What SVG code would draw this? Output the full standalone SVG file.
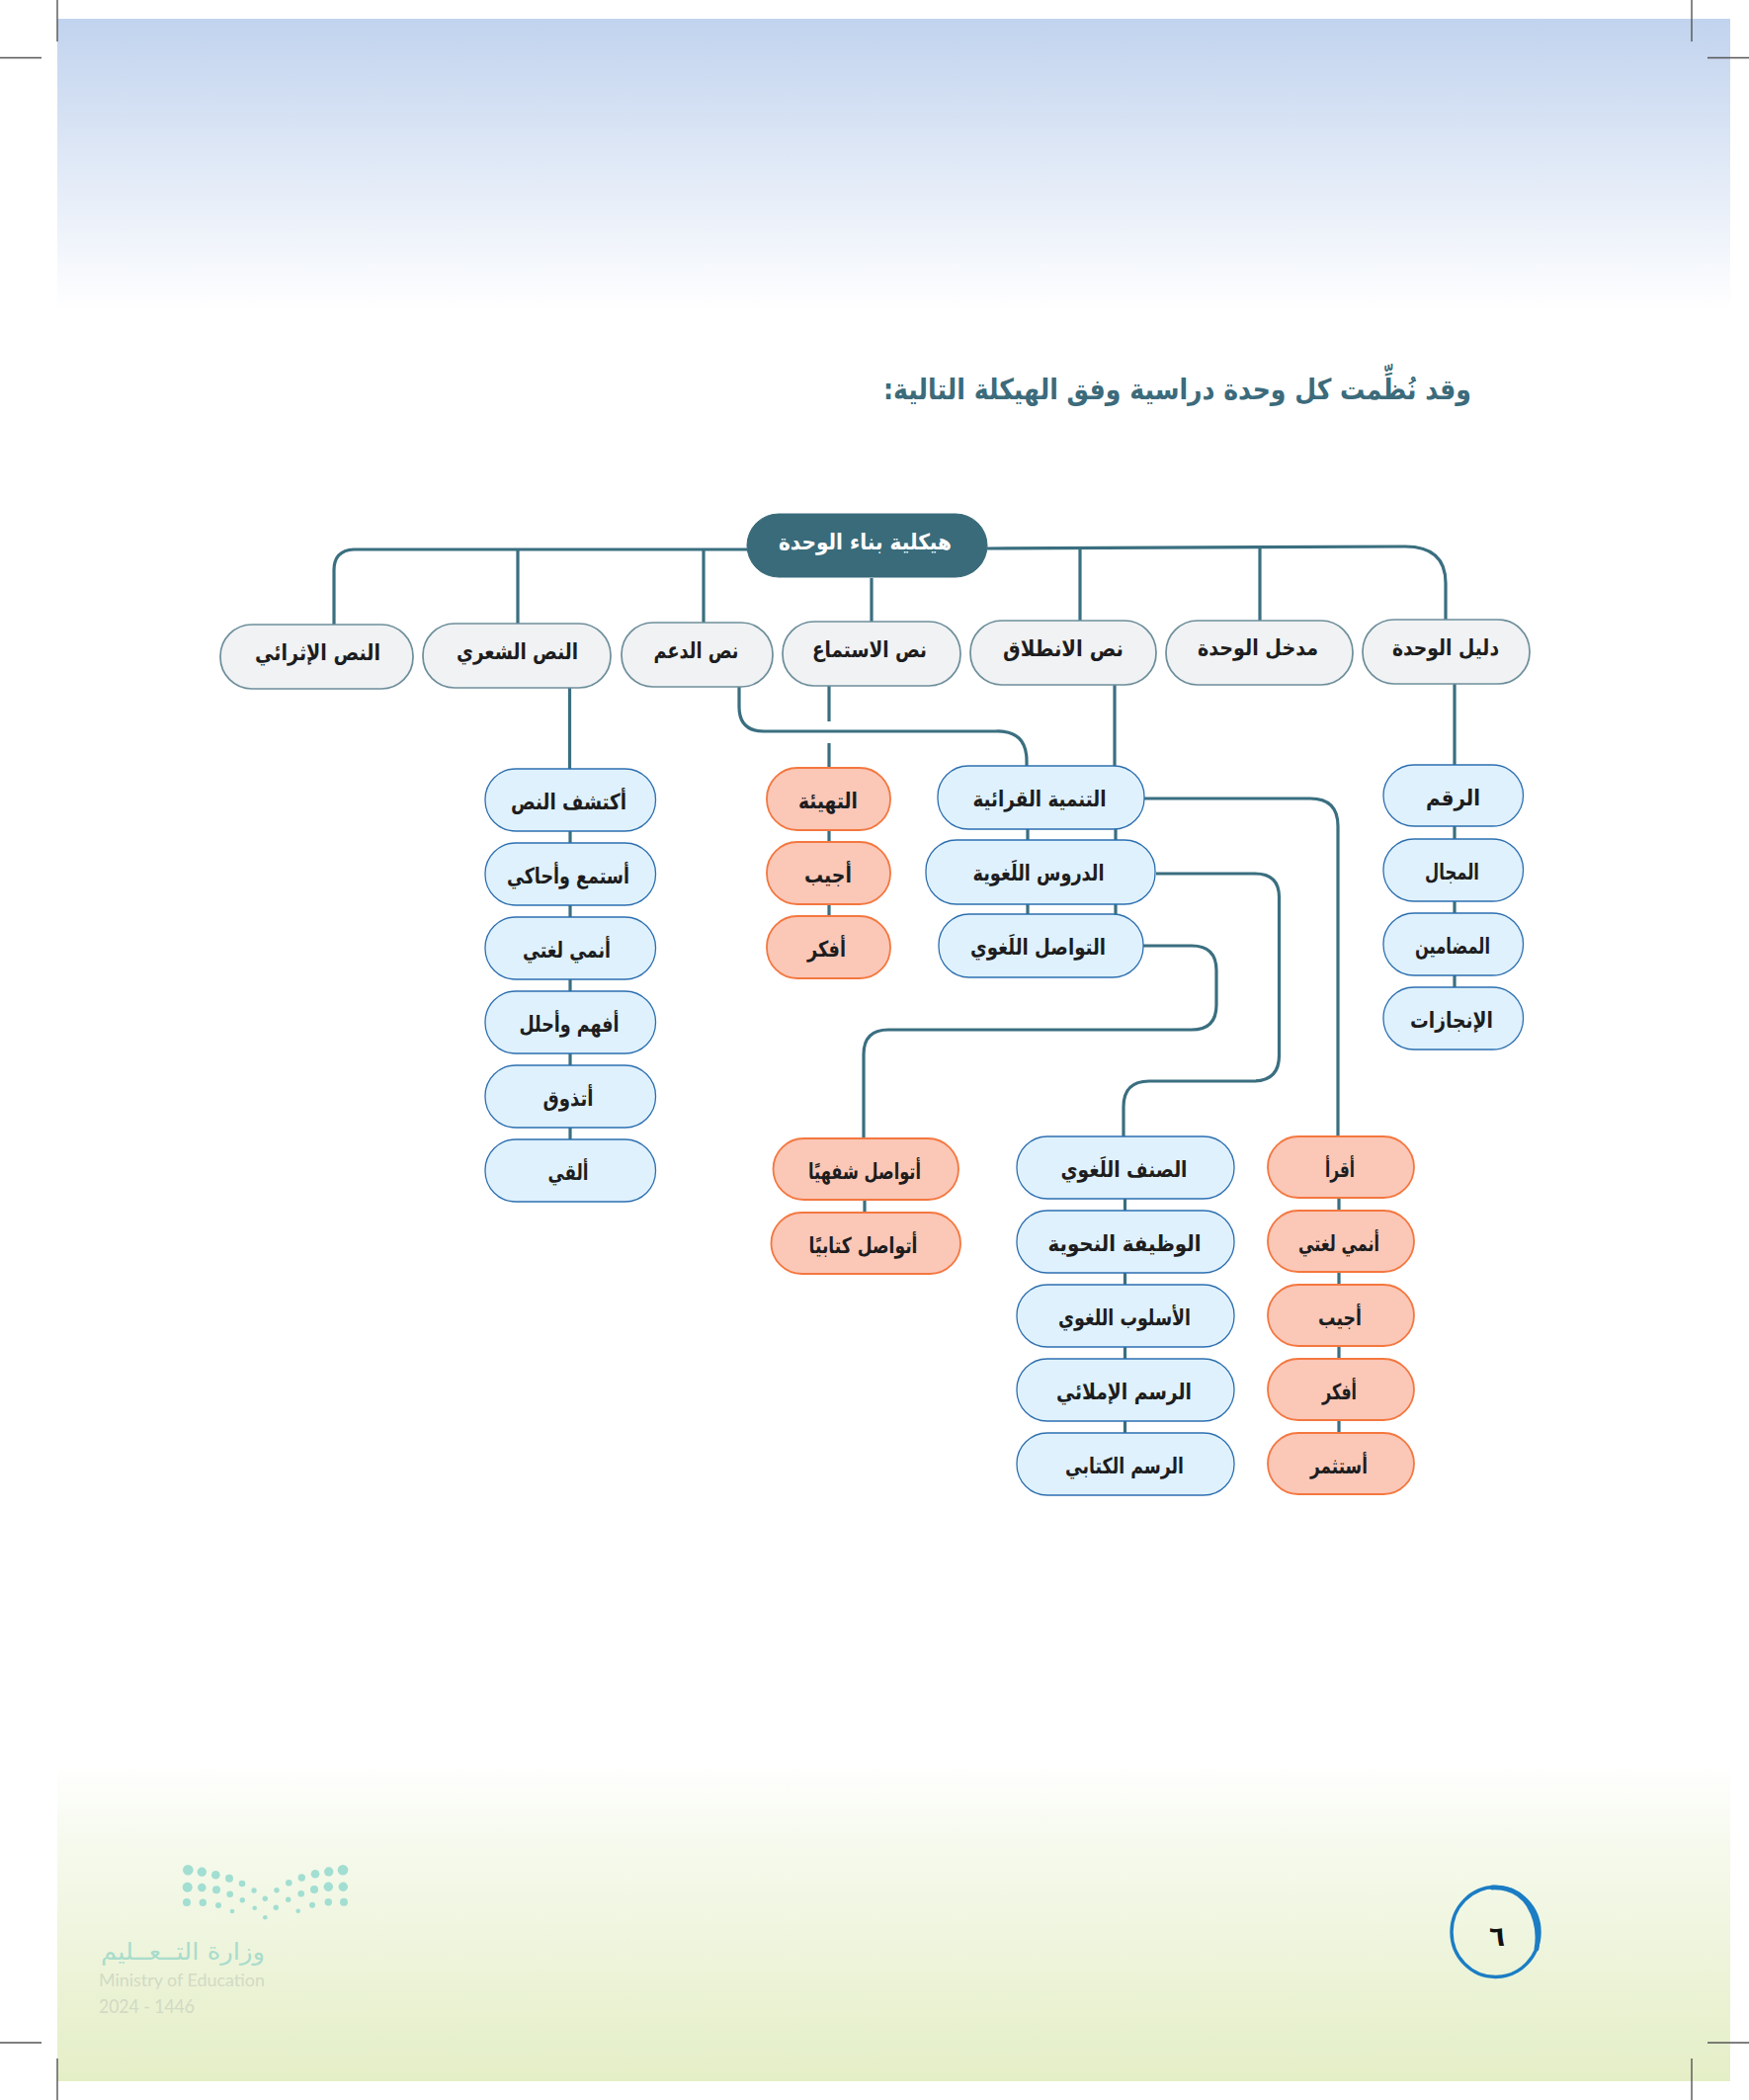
<svg xmlns="http://www.w3.org/2000/svg" width="1770" height="2125" viewBox="0 0 1770 2125">
<style>
text{font-family:"DejaVu Sans","Noto Sans",sans-serif;font-weight:bold;font-size:22px;fill:#1d1d20;text-anchor:middle;direction:rtl}
.g rect{fill:#f0f2f4;stroke:#6d8e9a;stroke-width:1.7}
.b rect{fill:#dff1fd;stroke:#2d6fb0;stroke-width:1.3}
.o rect{fill:#fbc7b7;stroke:#f4773f;stroke-width:1.8}
.r rect{fill:#396b7a;stroke:#396b7a}
.r text{fill:#fff}
.c path{fill:none;stroke:#3a6f80;stroke-width:3.2}
.crop path{fill:none;stroke:#555;stroke-width:1.4}
.dots circle{fill:#a2ded2}
</style>
<defs>
<linearGradient id="top" gradientUnits="userSpaceOnUse" x1="0" y1="19" x2="0" y2="315"><stop offset="0" stop-color="#c1d3ee"/><stop offset="1" stop-color="#ffffff"/></linearGradient>
<linearGradient id="bot" gradientUnits="userSpaceOnUse" x1="0" y1="1785" x2="0" y2="2106"><stop offset="0" stop-color="#ffffff"/><stop offset=".24" stop-color="#f6faee"/><stop offset="1" stop-color="#e4eec6"/></linearGradient>
</defs>
<rect x="58" y="19" width="1693" height="296" fill="url(#top)"/>
<rect x="58" y="1785" width="1693" height="321" fill="url(#bot)"/>
<g class="crop"><path d="M58 0V42M0 58.500H42M1712 0V42M1728 58.500H1770M58 2083V2125M0 2067H42M1712 2083V2125M1728 2067H1770"/></g>
<text id="title" x="1191.500" y="404" style="font-size:29px;fill:#3c6b7b" textLength="595" lengthAdjust="spacingAndGlyphs">وقد نُظِّمت كل وحدة دراسية وفق الهيكلة التالية:</text>

<g id="connectors" class="c">
<path d="M756 556H358Q338 557 338 577V632"/>
<path d="M999 555L1422 553Q1463 553 1463 590V627"/>
<path d="M524 557V631M712 556V630M882 585V629M1093 555V628M1275 554V628"/>
<path d="M576.500 696V778M577 841V1153"/>
<path d="M839 694V730M839 752V777M839 840V927"/>
<path d="M748 695V715Q748 740 773 740H1008Q1039 739 1039 770V775"/>
<path d="M1128 693V775"/>
<path d="M1040 839V925M1129 839V925"/>
<path d="M1158 808H1326Q1354 808 1354 836V1149"/>
<path d="M1170 884H1270Q1294.500 884 1294.500 908V1068Q1294.500 1094 1268 1094H1163Q1137 1094 1137 1120V1150"/>
<path d="M1157 957H1206Q1231 957 1231 982V1017Q1231 1042 1206 1042H899Q874 1042 874 1067V1152"/>
<path d="M875 1214V1227M1138.500 1213V1450M1355 1212V1449M1472 692V774M1472 836V999"/>
</g>

<g id="root" class="r"><rect x="756" y="520" width="243" height="64" rx="32"/><text x="875.500" y="556" textLength="175" lengthAdjust="spacingAndGlyphs">هيكلية بناء الوحدة</text></g>

<g id="n-ithra" class="g"><rect x="223" y="632" width="195" height="65" rx="32"/><text x="321.500" y="668" textLength="127" lengthAdjust="spacingAndGlyphs">النص الإثرائي</text></g>
<g id="n-shir" class="g"><rect x="428" y="631" width="190" height="65" rx="32"/><text x="523.500" y="667" textLength="123" lengthAdjust="spacingAndGlyphs">النص الشعري</text></g>
<g id="n-daam" class="g"><rect x="629" y="630" width="153" height="65" rx="32"/><text x="704.500" y="666" textLength="86" lengthAdjust="spacingAndGlyphs">نص الدعم</text></g>
<g id="n-istima" class="g"><rect x="792" y="629" width="180" height="65" rx="32"/><text x="880" y="665" textLength="116" lengthAdjust="spacingAndGlyphs">نص الاستماع</text></g>
<g id="n-intilaq" class="g"><rect x="982" y="628" width="188" height="65" rx="32"/><text x="1076" y="664" textLength="122" lengthAdjust="spacingAndGlyphs">نص الانطلاق</text></g>
<g id="n-madkhal" class="g"><rect x="1180" y="628" width="189" height="65" rx="32"/><text x="1273" y="663" textLength="122" lengthAdjust="spacingAndGlyphs">مدخل الوحدة</text></g>
<g id="n-dalil" class="g"><rect x="1379" y="627" width="169" height="65" rx="32"/><text x="1463" y="663" textLength="108" lengthAdjust="spacingAndGlyphs">دليل الوحدة</text></g>

<g id="l1" class="b"><rect x="491" y="778" width="172.500" height="63" rx="31"/><text x="575.500" y="819" textLength="117" lengthAdjust="spacingAndGlyphs">أكتشف النص</text></g>
<g id="l2" class="b"><rect x="491" y="853" width="172.500" height="63" rx="31"/><text x="575" y="894" textLength="124" lengthAdjust="spacingAndGlyphs">أستمع وأحاكي</text></g>
<g id="l3" class="b"><rect x="491" y="928" width="172.500" height="63" rx="31"/><text x="573.500" y="969" textLength="89" lengthAdjust="spacingAndGlyphs">أنمي لغتي</text></g>
<g id="l4" class="b"><rect x="491" y="1003" width="172.500" height="63" rx="31"/><text x="576" y="1044" textLength="101" lengthAdjust="spacingAndGlyphs">أفهم وأحلل</text></g>
<g id="l5" class="b"><rect x="491" y="1078" width="172.500" height="63" rx="31"/><text x="575" y="1119" textLength="51" lengthAdjust="spacingAndGlyphs">أتذوق</text></g>
<g id="l6" class="b"><rect x="491" y="1153" width="172.500" height="63" rx="31"/><text x="575" y="1194" textLength="41" lengthAdjust="spacingAndGlyphs">ألقي</text></g>

<g id="m1" class="o"><rect x="776" y="777" width="125" height="63" rx="31"/><text x="838" y="818" textLength="60" lengthAdjust="spacingAndGlyphs">التهيئة</text></g>
<g id="m2" class="o"><rect x="776" y="852" width="125" height="63" rx="31"/><text x="838" y="893" textLength="48" lengthAdjust="spacingAndGlyphs">أجيب</text></g>
<g id="m3" class="o"><rect x="776" y="927" width="125" height="63" rx="31"/><text x="836.500" y="968" textLength="39" lengthAdjust="spacingAndGlyphs">أفكر</text></g>

<g id="c1" class="b"><rect x="949" y="775" width="209" height="64" rx="31"/><text x="1052" y="816" textLength="135" lengthAdjust="spacingAndGlyphs">التنمية القرائية</text></g>
<g id="c2" class="b"><rect x="937" y="850" width="232" height="65" rx="31"/><text x="1051" y="891" textLength="133" lengthAdjust="spacingAndGlyphs">الدروس اللَغوية</text></g>
<g id="c3" class="b"><rect x="950" y="925" width="207" height="64" rx="31"/><text x="1050.500" y="966" textLength="137" lengthAdjust="spacingAndGlyphs">التواصل اللَغوي</text></g>

<g id="r1" class="b"><rect x="1400" y="774" width="141.500" height="62" rx="31"/><text x="1470.500" y="815" textLength="55" lengthAdjust="spacingAndGlyphs">الرقم</text></g>
<g id="r2" class="b"><rect x="1400" y="849" width="141.500" height="63" rx="31"/><text x="1469.500" y="890" textLength="55" lengthAdjust="spacingAndGlyphs">المجال</text></g>
<g id="r3" class="b"><rect x="1400" y="924" width="141.500" height="63" rx="31"/><text x="1470" y="965" textLength="76" lengthAdjust="spacingAndGlyphs">المضامين</text></g>
<g id="r4" class="b"><rect x="1400" y="999" width="141.500" height="63" rx="31"/><text x="1469" y="1040" textLength="84" lengthAdjust="spacingAndGlyphs">الإنجازات</text></g>

<g id="t1" class="o"><rect x="782.500" y="1152" width="187.500" height="62" rx="31"/><text x="875" y="1193" textLength="114" lengthAdjust="spacingAndGlyphs">أتواصل شفهيًا</text></g>
<g id="t2" class="o"><rect x="780.500" y="1227" width="191.500" height="62" rx="31"/><text x="873.500" y="1268" textLength="110" lengthAdjust="spacingAndGlyphs">أتواصل كتابيًا</text></g>

<g id="s1" class="b"><rect x="1029" y="1150" width="220" height="63" rx="31"/><text x="1137.500" y="1191" textLength="128" lengthAdjust="spacingAndGlyphs">الصنف اللَغوي</text></g>
<g id="s2" class="b"><rect x="1029" y="1225" width="220" height="63" rx="31"/><text x="1138" y="1266" textLength="155" lengthAdjust="spacingAndGlyphs">الوظيفة النحوية</text></g>
<g id="s3" class="b"><rect x="1029" y="1300" width="220" height="63" rx="31"/><text x="1138" y="1341" textLength="134" lengthAdjust="spacingAndGlyphs">الأسلوب اللغوي</text></g>
<g id="s4" class="b"><rect x="1029" y="1375" width="220" height="63" rx="31"/><text x="1137.500" y="1416" textLength="137" lengthAdjust="spacingAndGlyphs">الرسم الإملائي</text></g>
<g id="s5" class="b"><rect x="1029" y="1450" width="220" height="63" rx="31"/><text x="1138" y="1491" textLength="120" lengthAdjust="spacingAndGlyphs">الرسم الكتابي</text></g>

<g id="a1" class="o"><rect x="1283" y="1150" width="148" height="62" rx="31"/><text x="1356" y="1191" textLength="30" lengthAdjust="spacingAndGlyphs">أقرأ</text></g>
<g id="a2" class="o"><rect x="1283" y="1225" width="148" height="62" rx="31"/><text x="1355" y="1266" textLength="82" lengthAdjust="spacingAndGlyphs">أنمي لغتي</text></g>
<g id="a3" class="o"><rect x="1283" y="1300" width="148" height="62" rx="31"/><text x="1356" y="1341" textLength="44" lengthAdjust="spacingAndGlyphs">أجيب</text></g>
<g id="a4" class="o"><rect x="1283" y="1375" width="148" height="62" rx="31"/><text x="1355.500" y="1416" textLength="35" lengthAdjust="spacingAndGlyphs">أفكر</text></g>
<g id="a5" class="o"><rect x="1283" y="1450" width="148" height="62" rx="31"/><text x="1355" y="1491" textLength="58" lengthAdjust="spacingAndGlyphs">أستثمر</text></g>

<g class="dots">
<circle cx="190.300" cy="1892.300" r="5.300"/><circle cx="204.300" cy="1894.300" r="4.700"/><circle cx="218.300" cy="1897.300" r="4.300"/><circle cx="232" cy="1900.700" r="4"/><circle cx="245" cy="1906" r="3.300"/><circle cx="257" cy="1913" r="2.700"/><circle cx="280" cy="1912.700" r="2.700"/><circle cx="292.300" cy="1905.300" r="3.300"/><circle cx="305.300" cy="1900" r="3.700"/><circle cx="319" cy="1896.300" r="4.300"/><circle cx="332.700" cy="1894" r="4.700"/><circle cx="347" cy="1892.300" r="5.300"/>
<circle cx="189.700" cy="1909.700" r="5"/><circle cx="204.300" cy="1910" r="4.300"/><circle cx="219" cy="1912.300" r="4"/><circle cx="232.700" cy="1916.700" r="3.300"/><circle cx="245.300" cy="1922.700" r="2.700"/><circle cx="268.300" cy="1921.300" r="2.700"/><circle cx="291.700" cy="1922.300" r="2.700"/><circle cx="304.700" cy="1916.300" r="3.300"/><circle cx="318" cy="1912" r="4"/><circle cx="332.300" cy="1909.300" r="4.700"/><circle cx="347.300" cy="1909.300" r="4.700"/>
<circle cx="189" cy="1925" r="4"/><circle cx="205.300" cy="1925.300" r="3.700"/><circle cx="221" cy="1928" r="3"/><circle cx="235" cy="1934" r="2.300"/><circle cx="257.700" cy="1930.700" r="2.300"/><circle cx="279.300" cy="1930.300" r="2.700"/><circle cx="301.700" cy="1933.700" r="2.300"/><circle cx="316" cy="1927.700" r="3"/><circle cx="332.300" cy="1924.700" r="3.700"/><circle cx="348" cy="1924.700" r="4"/><circle cx="268.300" cy="1940.300" r="2.300"/>
</g>
<text id="logo-ar" x="185" y="1983" style="font-size:24px;font-weight:normal;fill:#a9dccc" textLength="166" lengthAdjust="spacingAndGlyphs">وزارة التــعــليم</text>
<text id="logo-en" x="184" y="2010" style="font-family:'Lato','Noto Sans',sans-serif;font-size:17px;font-weight:normal;fill:#d2dac4;direction:ltr" textLength="168" lengthAdjust="spacingAndGlyphs">Ministry of Education</text>
<text id="logo-year" x="148.500" y="2037" style="font-family:'Lato','Noto Sans',sans-serif;font-size:19px;font-weight:normal;fill:#d2dac4;direction:ltr" textLength="97" lengthAdjust="spacingAndGlyphs">2024 - 1446</text>

<g id="page-no">
<ellipse cx="1513.500" cy="1955" rx="44.500" ry="45.500" fill="none" stroke="#1b7dc4" stroke-width="3.400"/>
<path d="M1510 1910Q1535 1909 1547 1928Q1559 1948 1555 1972" fill="none" stroke="#1b7dc4" stroke-width="4.800" stroke-linecap="round"/>
<text x="1515" y="1969" style="font-size:28px;fill:#111" textLength="16" lengthAdjust="spacingAndGlyphs">٦</text>
</g>
</svg>
